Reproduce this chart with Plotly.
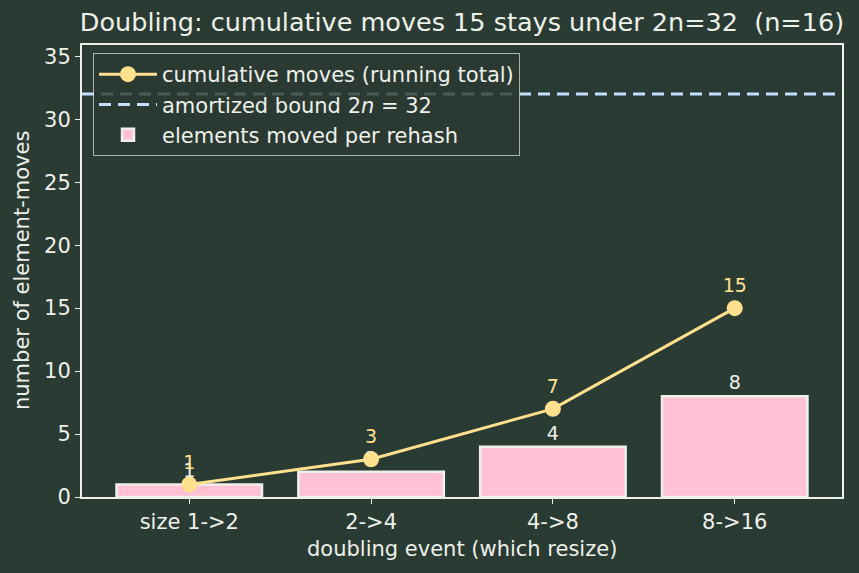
import plotly.graph_objects as go

events = ["size 1->2", "2->4", "4->8", "8->16"]
moved = [1, 2, 4, 8]
cumulative = [1, 3, 7, 15]
bound = 32
n = 16

BG = "#2a3b33"
FG = "#eef0ea"
PINK = "#ffc1d3"
YEL = "#ffe08f"
BLUE = "#c4dfff"

fig = go.Figure()
fig.add_trace(go.Bar(
    x=list(range(len(events))), y=moved, width=0.8,
    marker=dict(color=PINK, line=dict(color=FG, width=2.5)),
    text=[str(v) for v in moved], textposition="outside",
    textfont=dict(color=FG, size=19), cliponaxis=False,
    name="elements moved per rehash", legendrank=3,
))
fig.add_trace(go.Scatter(
    x=list(range(len(events))), y=cumulative, mode="lines+markers+text",
    line=dict(color=YEL, width=3), marker=dict(color=YEL, size=16),
    text=[str(v) for v in cumulative], textposition="top center",
    textfont=dict(color=YEL, size=19), cliponaxis=False,
    name="cumulative moves (running total)", legendrank=1,
))
fig.add_shape(type="line", xref="paper", x0=0, x1=1, yref="y", y0=bound, y1=bound,
              line=dict(color=BLUE, width=3, dash="12px,7px"),
              showlegend=True, name="amortized bound 2<i>n</i> = %d" % bound,
              legendrank=2, layer="below")

fig.add_annotation(text="doubling event (which resize)", xref="paper", yref="paper",
                   x=0.5, y=-(549 - 497) / 452, xanchor="center", yanchor="middle",
                   showarrow=False, font=dict(size=21, color=FG))
fig.add_annotation(text="number of element-moves", xref="paper", yref="paper",
                   x=-(82 - 22) / 760, y=0.5, xanchor="center", yanchor="middle",
                   textangle=-90, showarrow=False, font=dict(size=21, color=FG))

fig.update_layout(
    width=859, height=573,
    paper_bgcolor=BG, plot_bgcolor=BG,
    margin=dict(l=82, r=17, t=45, b=76),
    font=dict(family="DejaVu Sans", color=FG, size=21),
    title=dict(text="Doubling: cumulative moves %d stays under 2n=%d  (n=%d)" % (cumulative[-1], bound, n),
               x=0.5, xref="paper", xanchor="center", y=1 - 22 / 573, yanchor="middle",
               font=dict(size=25.5, color=FG)),
    bargap=0.2,
    showlegend=True,
    legend=dict(x=11 / 760, y=1 - 8 / 452, xanchor="left", yanchor="top",
                bgcolor="rgba(42,59,51,0.8)", bordercolor="rgba(230,230,225,0.7)",
                borderwidth=1, font=dict(size=21, color=FG), tracegroupgap=0,
                traceorder="normal", itemwidth=58),
)
fig.update_xaxes(
    range=[-0.59, len(events) - 1 + 0.59], automargin=False,
    tickmode="array", tickvals=list(range(len(events))), ticktext=events,
    showline=True, mirror=True, linecolor=FG, linewidth=2,
    ticks="outside", ticklen=5, tickcolor=FG, showgrid=False, zeroline=False,
    tickfont=dict(size=21, color=FG),
)
fig.update_yaxes(
    range=[0, 35.9], tickmode="array", tickvals=[0, 5, 10, 15, 20, 25, 30, 35],
    automargin=False,
    showline=True, mirror=True, linecolor=FG, linewidth=2,
    ticks="outside", ticklen=5, tickcolor=FG, showgrid=False, zeroline=False,
    tickfont=dict(size=21, color=FG),
)

fig.write_html("out.html")
